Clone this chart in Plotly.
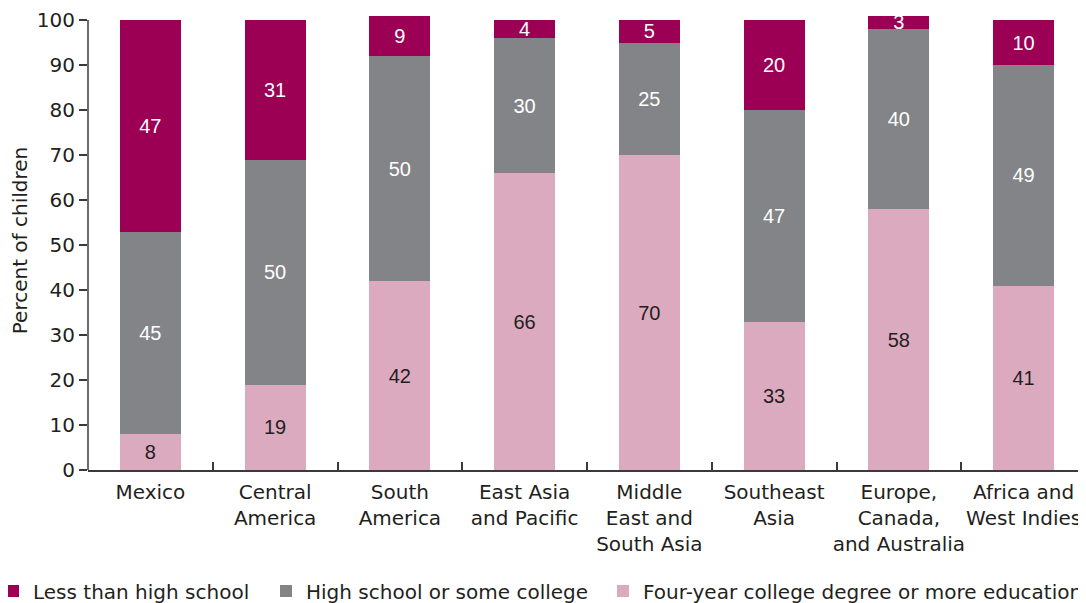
import plotly.graph_objects as go

categories = ["Mexico", "Central<br>America", "South<br>America", "East Asia<br>and Pacific",
              "Middle<br>East and<br>South Asia", "Southeast<br>Asia",
              "Europe,<br>Canada,<br>and Australia", "Africa and<br>West Indies"]
college = [8, 19, 42, 66, 70, 33, 58, 41]
high_school = [45, 50, 50, 30, 25, 47, 40, 49]
less_than_hs = [47, 31, 9, 4, 5, 20, 3, 10]
y_ticks = [0, 10, 20, 30, 40, 50, 60, 70, 80, 90, 100]

C_LESS = "#9b0054"
C_HS = "#838488"
C_COL = "#dcaabf"
FONT = "DejaVu Sans"
BAR_FONT = "Liberation Sans"
AX = "#3a3a3a"

fig = go.Figure()
fig.add_trace(go.Bar(x=categories, y=college, name="Four-year college degree or more education",
                     marker_color=C_COL, text=college, textposition="inside",
                     insidetextanchor="middle", legend="legend3",
                     textfont=dict(color="#231f20", size=20, family=BAR_FONT)))
fig.add_trace(go.Bar(x=categories, y=high_school, name="High school or some college",
                     marker_color=C_HS, text=high_school, textposition="inside",
                     insidetextanchor="middle", legend="legend2",
                     textfont=dict(color="white", size=20, family=BAR_FONT)))
fig.add_trace(go.Bar(x=categories, y=less_than_hs, name="Less than high school",
                     marker_color=C_LESS, text=less_than_hs, textposition="inside",
                     insidetextanchor="middle", legend="legend",
                     textfont=dict(color="white", size=20, family=BAR_FONT)))
for t in fig.data:
    t.update(textangle=0, constraintext="none", cliponaxis=False, marker_line_width=0,
             showlegend=True)

fig.add_shape(type="line", xref="paper", yref="y", x0=0, x1=0, y0=0, y1=100,
              line=dict(color=AX, width=1.5))

W, H = 1078, 595
ML, MT, MB, MR = 80, 3, 133, 0
PW, PH = W - ML - MR, H - MT - MB


def leg(xpx):
    return dict(orientation="h", x=(xpx - ML) / PW, xref="paper", xanchor="left",
                y=-(583 - (H - MB)) / PH, yref="paper", yanchor="middle",
                font=dict(size=20), itemwidth=30, bgcolor="rgba(0,0,0,0)")


fig.update_layout(
    width=W, height=H,
    showlegend=True,
    barmode="stack", bargap=0.51,
    plot_bgcolor="white", paper_bgcolor="white",
    margin=dict(l=ML, r=MR, t=MT, b=MB, autoexpand=False),
    font=dict(family=FONT, size=20, color="#231f20"),
    uniformtext=dict(minsize=20, mode="show"),
    legend=leg(-15),
    legend2=leg(258),
    legend3=leg(595),
    yaxis=dict(range=[0, 102], tickvals=y_ticks, ticks="outside", ticklen=8,
               tickcolor=AX, tickwidth=1.5, showgrid=False, zeroline=False, showline=False,
               tickfont=dict(size=20), automargin=False,
               title=dict(text="Percent of children", font=dict(size=20), standoff=10)),
    xaxis=dict(showline=True, linecolor=AX, linewidth=1.5, ticks="inside",
               ticklen=8, tickcolor=AX, tickwidth=1.5, tickson="boundaries",
               tickfont=dict(size=20), showgrid=False, automargin=False,
               tickangle=0, ticklabelstandoff=3),
)

fig.write_html("out.html")
